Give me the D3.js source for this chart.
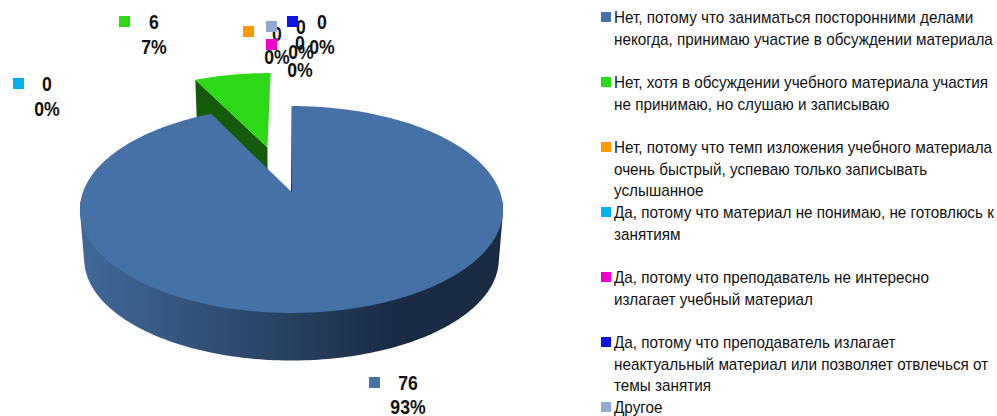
<!DOCTYPE html>
<html>
<head>
<meta charset="utf-8">
<script src="https://cdn.jsdelivr.net/npm/d3@7"></script>
<style>
  html, body { margin: 0; padding: 0; background: #fff; }
  svg { display: block; }
  text { font-family: "Liberation Sans", Arial, sans-serif; fill: #111; }
</style>
</head>
<body>
<script>
// data
var categories = [
  ["Нет, потому что заниматься посторонними делами", "некогда, принимаю участие в обсуждении материала"],
  ["Нет, хотя в обсуждении учебного материала участия", "не принимаю, но слушаю и записываю"],
  ["Нет, потому что темп изложения учебного материала", "очень быстрый, успеваю только записывать", "услышанное"],
  ["Да, потому что материал не понимаю, не готовлюсь к", "занятиям"],
  ["Да, потому что преподаватель не интересно", "излагает учебный материал"],
  ["Да, потому что преподаватель излагает", "неактуальный материал или позволяет отвлечься от", "темы занятия"],
  ["Другое"]
];
var values = [76, 6, 0, 0, 0, 0, 0];
var percents = ["93%", "7%", "0%", "0%", "0%", "0%", "0%"];
var colors = ["#4571a6", "#2dd816", "#ff9a00", "#00b0f0", "#f000c8", "#0a14e6", "#95a9d0"];
var sideColors = ["#27405f", "#155a0b"];

// where each data label sits: [swatch x, swatch y, text centre x, baseline of value, baseline of percent]
var labelPos = [
  [369, 377, 408, 390, 414],
  [119, 16, 154, 29, 54],
  [243, 26, 277, 41, 64],
  [13, 78, 47, 91, 116],
  [266, 39, 300, 50, 77],
  [287, 16, 322, 29, 54],
  [266, 21, 301, 34, 59]
];

var width = 997, height = 416;

var svg = d3.select("body").append("svg")
    .attr("width", width)
    .attr("height", height);

var color = d3.scaleOrdinal().domain(d3.range(values.length)).range(colors);

// pie angles, biggest slice starts at 12 o'clock
var pie = d3.pie().sort(null).value(d => d);
var arcs = pie(values);

// tilted disc with a bit of perspective
var cx = 291.5, cy = 192, ax = 208.5, ay = 100.5, k = 0.169;
var depthY = 50, depthS = 0.98;

function project(u, v, low) {
  var w = 1 + k * v;
  var s = low ? depthS : 1;
  return [cx + s * ax * u / w, cy - s * ay * v / w + (low ? depthY : 0)];
}

function rimPoints(a0, a1, off, low) {
  var n = Math.max(2, Math.ceil((a1 - a0) / 0.02));
  return d3.range(n + 1).map(function(i) {
    var a = a0 + (a1 - a0) * i / n;
    return project(off[0] + Math.sin(a), off[1] + Math.cos(a), low);
  });
}

var line = d3.line();

var defs = svg.append("defs");
var grad = defs.append("linearGradient")
    .attr("id", "wall")
    .attr("gradientUnits", "userSpaceOnUse")
    .attr("x1", 80).attr("x2", 503).attr("y1", 0).attr("y2", 0);
grad.append("stop").attr("offset", "0").attr("stop-color", "#41689a");
grad.append("stop").attr("offset", "0.5").attr("stop-color", "#27405f");
grad.append("stop").attr("offset", "0.75").attr("stop-color", "#1a2b43");
grad.append("stop").attr("offset", "1").attr("stop-color", "#1a2b43");

var cut = defs.append("linearGradient")
    .attr("id", "cut")
    .attr("gradientUnits", "userSpaceOnUse")
    .attr("x1", 0).attr("x2", 0).attr("y1", 106).attr("y2", 192);
cut.append("stop").attr("offset", "0").attr("stop-color", "#9db4d0");
cut.append("stop").attr("offset", "1").attr("stop-color", "#1a2b43");

var blue = arcs[0], green = arcs[1];
var noOff = [0, 0];
var greenOff = [-0.125, 0.48];

// green slice comes first, blue one lies over its foot
var gApex = project(greenOff[0], greenOff[1]);
var gLeft = project(greenOff[0] + Math.sin(green.startAngle), greenOff[1] + Math.cos(green.startAngle));
var gApexLow = project(greenOff[0], greenOff[1], true);
var gLeftLow = project(greenOff[0] + Math.sin(green.startAngle), greenOff[1] + Math.cos(green.startAngle), true);

svg.append("path")
    .attr("d", line([gLeft, gApex, gApexLow, gLeftLow]) + "Z")
    .attr("fill", sideColors[1]);

svg.append("path")
    .attr("d", line([gApex].concat(rimPoints(green.startAngle, green.endAngle, greenOff))) + "Z")
    .attr("fill", color(1));

// outer wall of the blue slice, hull of upper and lower rim
// the front range stays below the apex so nothing shows in the notch
var front = [Math.PI * 95 / 180, Math.PI * 265 / 180];
var hull = d3.polygonHull(rimPoints(front[0], front[1], noOff).concat(rimPoints(front[0], front[1], noOff, true)));
svg.append("path")
    .attr("d", line(hull) + "Z")
    .attr("fill", "url(#wall)");

svg.append("path")
    .attr("d", line([project(0, 0)].concat(rimPoints(blue.startAngle, blue.endAngle, noOff))) + "Z")
    .attr("fill", color(0));

svg.append("path")
    .attr("d", line([project(0, 1), project(0, 0)]))
    .attr("fill", "none")
    .attr("stroke", "url(#cut)")
    .attr("stroke-width", 1);

// data labels, swatches go on top of the text
var labels = svg.append("g");
var squeeze = 0.84;

values.forEach(function(v, i) {
  var p = labelPos[i];
  [[v, p[3]], [percents[i], p[4]]].forEach(function(t) {
    labels.append("text")
        .attr("transform", "translate(" + p[2] + "," + t[1] + ") scale(" + squeeze + ",1)")
        .attr("text-anchor", "middle")
        .attr("font-size", 21)
        .attr("font-weight", "bold")
        .text(t[0]);
  });
});

labels.selectAll("rect")
    .data(values)
    .join("rect")
    .attr("x", (d, i) => labelPos[i][0])
    .attr("y", (d, i) => labelPos[i][1])
    .attr("width", 11)
    .attr("height", 11)
    .attr("fill", (d, i) => color(i));

// legend
var legendY = d3.scaleLinear().domain([0, 6]).range([12, 402]);
var legend = svg.append("g");

categories.forEach(function(lines, i) {
  legend.append("rect")
      .attr("x", 601)
      .attr("y", legendY(i))
      .attr("width", 10)
      .attr("height", 10)
      .attr("fill", color(i));
  lines.forEach(function(l, j) {
    legend.append("text")
        .attr("transform", "translate(614," + (legendY(i) + 11 + j * 21.6) + ") scale(0.955,1)")
        .attr("font-size", 16)
        .text(l);
  });
});
</script>
</body>
</html>
